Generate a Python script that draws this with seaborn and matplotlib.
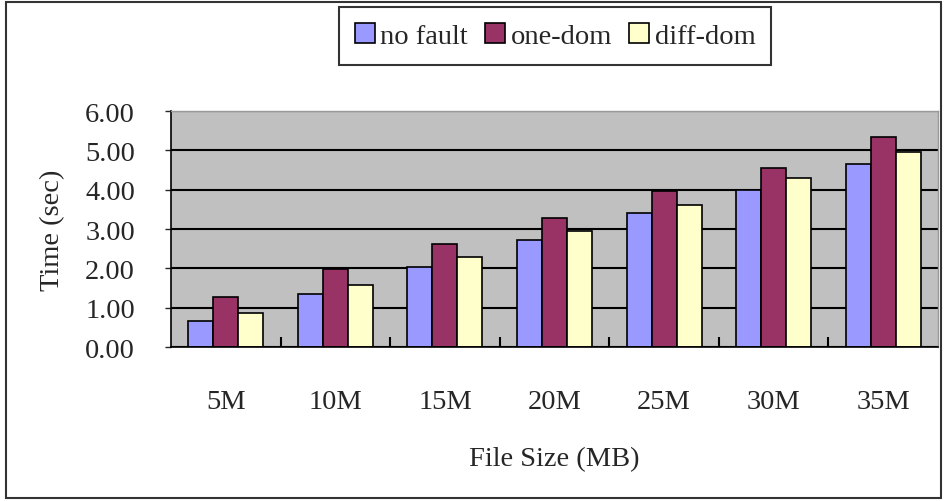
import pandas as pd
import matplotlib
matplotlib.use('Agg')
import matplotlib.pyplot as plt
import seaborn as sns
from matplotlib.patches import Rectangle
from matplotlib.ticker import FixedLocator

# Data
sizes = ['5M', '10M', '15M', '20M', '25M', '30M', '35M']
no_fault = [0.67, 1.34, 2.03, 2.72, 3.40, 4.00, 4.64]
one_dom = [1.27, 1.98, 2.61, 3.29, 3.97, 4.54, 5.35]
diff_dom = [0.86, 1.58, 2.30, 2.95, 3.60, 4.29, 4.95]
series_names = ['no fault', 'one-dom', 'diff-dom']
colors = ['#9999FF', '#993366', '#FFFFCC']

df = pd.DataFrame({
    'size': sizes * 3,
    'time': no_fault + one_dom + diff_dom,
    'series': [s for s in series_names for _ in sizes],
})

sns.set_style('white')
plt.rcParams['font.family'] = ['Liberation Serif', 'DejaVu Serif']

fig = plt.figure(figsize=(9.45, 5.02), dpi=100)
ax = fig.add_axes([171 / 945, 1 - 348 / 502, (938 - 171) / 945, (348 - 112) / 502])

sns.barplot(data=df, x='size', y='time', hue='series', hue_order=series_names,
            palette=colors, width=0.684, edgecolor='black', linewidth=1.2,
            saturation=1, ax=ax, legend=True)

ax.set_facecolor('#C0C0C0')
ax.set_ylim(0, 6)
ax.set_xlim(-0.5, 6.5)
ax.set_yticks([0, 1, 2, 3, 4, 5, 6])
ax.set_yticklabels(['%.2f' % v for v in [0, 1, 2, 3, 4, 5, 6]])
ax.yaxis.grid(True, color='black', linewidth=1.5)
ax.set_axisbelow(True)

# tick styling: small inward marks between the groups
ax.xaxis.set_minor_locator(FixedLocator([0.5, 1.5, 2.5, 3.5, 4.5, 5.5]))
ax.tick_params(axis='x', which='major', length=0, pad=30, labelsize=20.5)
ax.tick_params(axis='x', which='minor', direction='in', length=7, width=1.5, color='black', bottom=True)
ax.tick_params(axis='y', which='major', direction='out', length=4, width=1, left=True, pad=22, labelsize=20.5)

for side in ['left', 'bottom']:
    ax.spines[side].set_color('black')
    ax.spines[side].set_linewidth(1.2)
for side in ['top', 'right']:
    ax.spines[side].set_color('#999999')
    ax.spines[side].set_linewidth(1)

ax.set_xlabel('File Size (MB)', fontsize=20.5, labelpad=23)
ax.set_ylabel('Time (sec)', fontsize=20.5, labelpad=14)

handles, labels = ax.get_legend_handles_labels()
ax.legend_.remove()
leg = fig.legend(handles, labels, loc='center', bbox_to_anchor=(555 / 945, 1 - 37 / 502),
                 ncol=3, fontsize=20.5, frameon=True, fancybox=False, edgecolor='black',
                 handlelength=0.7, handleheight=0.7, handletextpad=0.2,
                 columnspacing=0.6, borderpad=0.55)
leg.get_frame().set_linewidth(1.5)

# outer chart border
fig.patches.append(Rectangle((6 / 945, 3 / 502), 935 / 945, 496 / 502,
                             transform=fig.transFigure, fill=False,
                             edgecolor='#333333', linewidth=1.5))

fig.savefig('out.png', dpi=100)
